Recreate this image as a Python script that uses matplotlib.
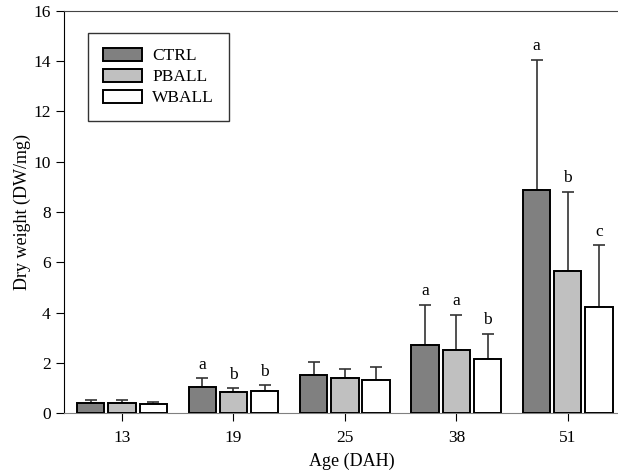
import numpy as np
import matplotlib
matplotlib.use("Agg")
import matplotlib.pyplot as plt

# Dry weight per age and diet
ages = ["13", "19", "25", "38", "51"]
groups = ["CTRL", "PBALL", "WBALL"]
means = {
    "CTRL": [0.40, 1.02, 1.50, 2.70, 8.88],
    "PBALL": [0.40, 0.84, 1.38, 2.50, 5.66],
    "WBALL": [0.36, 0.86, 1.30, 2.15, 4.20],
}
errors = {
    "CTRL": [0.10, 0.36, 0.55, 1.60, 5.18],
    "PBALL": [0.10, 0.14, 0.38, 1.40, 3.14],
    "WBALL": [0.10, 0.24, 0.52, 1.00, 2.48],
}
letters = {
    "CTRL": ["", "a", "", "a", "a"],
    "PBALL": ["", "b", "", "a", "b"],
    "WBALL": ["", "b", "", "b", "c"],
}
colors = {"CTRL": "#808080", "PBALL": "#c0c0c0", "WBALL": "#ffffff"}

plt.rcParams["font.family"] = ["Liberation Serif", "DejaVu Serif"]

fig = plt.figure(figsize=(6.18, 4.71), dpi=100)
ax = fig.add_axes([0.1036, 0.123, 0.93, 0.854])

x = np.arange(len(ages))
width = 0.245
step = 0.28

for i, g in enumerate(groups):
    pos = x + (i - 1) * step
    ax.bar(pos, means[g], width, color=colors[g], edgecolor="black",
           linewidth=1.4, label=g, zorder=3)
    ax.errorbar(pos, means[g], yerr=[np.zeros(len(ages)), errors[g]],
                fmt="none", ecolor="#333333", elinewidth=1.2,
                capsize=4, capthick=1.2, zorder=2)
    for p, m, e, t in zip(pos, means[g], errors[g], letters[g]):
        if t:
            ax.text(p, m + e + 0.22, t, ha="center", va="bottom", fontsize=12.5)

ax.set_xlim(-0.52, 4.637)
ax.set_ylim(0, 16)
ax.set_xticks(x)
ax.set_xticklabels(ages)
ax.set_yticks(np.arange(0, 17, 2))
ax.tick_params(direction="out", length=6, labelsize=12.5, colors="black")
ax.tick_params(axis="x", pad=6)
ax.spines["right"].set_visible(False)
ax.spines["bottom"].set_color("#808080")
ax.spines["top"].set_color("#444444")
ax.set_xlabel("Age (DAH)", fontsize=13, labelpad=5)
ax.set_ylabel("Dry weight (DW/mg)", fontsize=13, labelpad=2)

leg = ax.legend(loc="upper left", bbox_to_anchor=(0.042, 0.945),
                fontsize=12.5, frameon=True, fancybox=False, edgecolor="black",
                handlelength=2.25, handleheight=0.8, borderpad=0.85,
                labelspacing=0.25, handletextpad=0.6, borderaxespad=0)
leg.get_frame().set_linewidth(1.0)

fig.savefig("out.png", dpi=100)
